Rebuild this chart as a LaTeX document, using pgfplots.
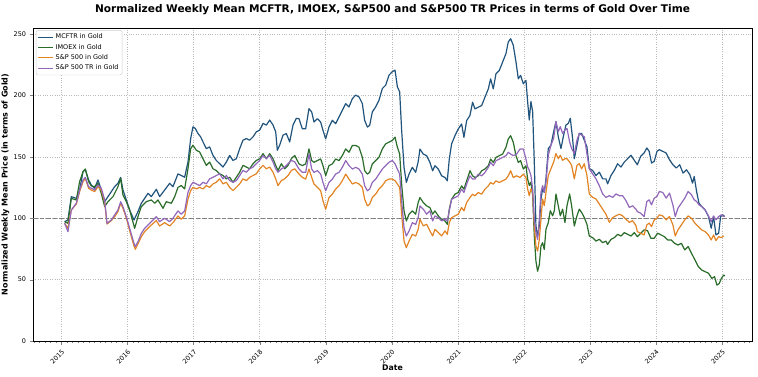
\documentclass[border=0pt]{standalone}
\usepackage{fontspec}
\setmainfont{DejaVu Sans}
\usepackage{pgfplots}
\pgfplotsset{compat=1.18}
\definecolor{cblue}{RGB}{33,84,125}
\definecolor{cgreen}{RGB}{42,108,42}
\definecolor{corange}{RGB}{226,132,36}
\definecolor{cpurple}{RGB}{146,104,186}
\begin{document}
\begin{tikzpicture}
\begin{axis}[name=ax, scale only axis, width=719bp, height=313bp,
  xmin=2014.569, xmax=2025.454, ymin=0, ymax=255,
  xtick={2015,2016,...,2025},
  minor xtick={2014.58333,2014.66667,...,2025.42},
  ytick={0,50,...,250},
  tick align=outside, xtick pos=bottom, ytick pos=left,
  major tick length=3.5bp, minor tick length=2bp,
  /pgf/number format/1000 sep={}, /pgf/number format/assume math mode=true,
  xticklabel style={rotate=45, anchor=north east, font=\fontsize{6.5}{7}\selectfont},
  yticklabel style={font=\fontsize{6.5}{7}\selectfont},
  grid=major, grid style={dotted, gray!55, line width=0.4bp},
  axis line style={line width=0.6bp},
  title={Normalized Weekly Mean MCFTR, IMOEX, S\&P500 and S\&P500 TR Prices in terms of Gold Over Time},
  title style={font=\bfseries\fontsize{10.6}{12}\selectfont, yshift=4bp},
  xlabel={Date}, ylabel={Normalized Weekly Mean Price (in terms of Gold)},
  xlabel style={font=\bfseries\fontsize{7.8}{8}\selectfont, at={(axis description cs:0.5,-0.086)}, anchor=center},
  ylabel style={font=\bfseries\fontsize{8}{9}\selectfont, at={(axis description cs:-0.028,0.5)}, anchor=south},
  legend style={at={(0.004,0.993)}, anchor=north west, draw=gray!40, rounded corners=2bp,
    font=\fontsize{6.5}{7}\selectfont, inner sep=1.5bp, row sep=0bp, cells={anchor=west}, fill=white},
  legend image code/.code={\draw[#1, line width=1.1bp] (0bp,0bp) -- (15bp,0bp);},
  every axis plot/.append style={line width=1.2bp, line join=round},
]
\addplot[forget plot, gray, dash pattern=on 4.5bp off 2bp, line width=0.8bp] coordinates {(2014.569,100) (2025.454,100)};

\addplot[cblue] coordinates {
(2015.048,97.2)(2015.098,98.6)(2015.149,117.6)(2015.225,116.2)(2015.275,123.0)(2015.326,137.9)(2015.361,139.8)(2015.411,131.2)(2015.452,127.1)(2015.502,124.4)(2015.553,131.2)(2015.603,123.0)(2015.654,113.5)(2015.704,117.6)(2015.755,121.7)(2015.805,125.7)(2015.855,128.5)(2015.896,133.3)(2015.931,123.0)(2015.982,114.9)(2016.032,106.7)(2016.098,98.6)(2016.158,105.4)(2016.209,112.2)(2016.259,116.2)(2016.310,120.3)(2016.360,117.6)(2016.436,123.6)(2016.486,117.6)(2016.562,123.0)(2016.638,128.5)(2016.688,125.7)
(2016.764,136.2)(2016.814,134.8)(2016.865,133.4)(2016.915,145.8)(2016.956,164.9)(2016.991,174.5)(2017.026,173.2)(2017.067,169.0)(2017.107,166.3)(2017.143,162.2)(2017.193,156.7)(2017.243,158.1)(2017.294,151.2)(2017.344,147.1)(2017.395,144.4)(2017.445,141.7)(2017.496,145.8)(2017.546,151.2)(2017.597,147.1)(2017.647,148.5)(2017.698,156.7)(2017.748,163.6)(2017.799,164.9)(2017.849,163.6)(2017.900,166.3)(2017.950,170.4)(2018.001,171.8)(2018.051,177.3)(2018.102,175.9)(2018.152,180.0)(2018.203,175.9)(2018.243,170.4)(2018.268,155.4)(2018.303,159.5)(2018.354,167.7)(2018.404,169.0)(2018.455,162.2)(2018.505,175.9)(2018.556,181.4)
(2018.596,181.1)(2018.646,172.9)(2018.697,172.9)(2018.747,189.3)(2018.788,186.6)(2018.823,178.4)(2018.874,181.1)(2018.924,178.4)(2018.959,171.6)(2019.000,164.7)(2019.050,174.3)(2019.101,179.8)(2019.151,177.0)(2019.202,182.5)(2019.252,188.0)(2019.303,193.4)(2019.353,190.7)(2019.404,197.5)(2019.454,200.3)(2019.504,198.9)(2019.555,193.4)(2019.590,179.8)(2019.631,174.3)(2019.666,175.7)(2019.706,186.6)(2019.757,190.7)(2019.807,196.2)(2019.858,205.7)(2019.908,208.4)(2019.959,216.6)(2020.009,219.4)(2020.050,220.7)(2020.085,207.1)(2020.120,203.0)(2020.150,171.6)(2020.186,141.5)(2020.221,129.2)(2020.262,136.0)(2020.312,141.5)(2020.362,137.4)(2020.400,146.0)
(2020.427,156.4)(2020.477,152.3)(2020.528,151.0)(2020.578,145.5)(2020.619,138.7)(2020.654,142.8)(2020.705,140.1)(2020.755,134.6)(2020.806,133.2)(2020.841,130.5)(2020.871,148.2)(2020.906,160.5)(2020.957,167.3)(2021.007,172.7)(2021.058,176.8)(2021.093,165.9)(2021.134,179.6)(2021.184,183.7)(2021.224,194.5)(2021.260,189.1)(2021.310,190.5)(2021.361,191.8)(2021.411,198.6)(2021.462,205.4)(2021.497,213.6)(2021.537,205.4)(2021.578,217.7)(2021.628,220.4)(2021.679,227.3)(2021.729,234.1)(2021.764,243.6)(2021.800,246.3)(2021.840,240.9)(2021.881,227.3)(2021.916,213.6)(2021.951,216.4)(2021.992,209.5)(2022.032,212.3)
(2022.057,195.1)(2022.082,180.1)(2022.107,195.1)(2022.133,186.9)(2022.158,145.8)(2022.183,93.7)(2022.208,85.5)(2022.234,93.7)(2022.259,115.7)(2022.284,123.9)(2022.309,121.1)(2022.335,132.1)(2022.370,156.8)(2022.410,159.5)(2022.451,170.5)(2022.486,178.7)(2022.521,166.4)(2022.562,156.8)(2022.602,167.7)(2022.637,175.9)(2022.673,177.3)(2022.703,181.4)(2022.738,165.0)(2022.764,148.5)(2022.804,159.5)(2022.839,169.1)(2022.875,169.1)(2022.915,163.6)(2022.955,158.1)(2022.991,140.3)(2023.041,139.0)(2023.092,134.8)(2023.142,137.6)(2023.193,132.1)(2023.243,132.1)(2023.268,128.0)(2023.319,134.8)(2023.369,139.0)(2023.420,144.4)(2023.470,141.7)(2023.521,145.8)(2023.571,148.5)(2023.622,151.3)(2023.672,147.2)
(2023.718,143.6)(2023.769,150.5)(2023.821,153.2)(2023.862,157.3)(2023.897,154.5)(2023.933,145.0)(2023.974,146.4)(2024.015,154.5)(2024.051,155.9)(2024.103,154.5)(2024.154,153.2)(2024.205,147.7)(2024.256,143.6)(2024.308,140.9)(2024.359,143.6)(2024.410,136.8)(2024.462,139.5)(2024.513,135.5)(2024.554,128.6)(2024.579,134.1)(2024.615,121.8)(2024.651,112.3)(2024.692,109.6)(2024.744,106.8)(2024.795,101.4)(2024.836,91.9)(2024.872,101.4)(2024.908,86.4)(2024.949,87.8)(2024.979,101.4)(2025.010,102.8)(2025.041,101.4)
};
\addlegendentry{MCFTR in Gold}

\addplot[cgreen] coordinates {
(2015.048,97.2)(2015.098,95.9)(2015.149,116.2)(2015.225,114.9)(2015.275,129.8)(2015.326,137.9)(2015.361,140.1)(2015.411,129.8)(2015.452,126.3)(2015.502,125.7)(2015.553,128.5)(2015.603,120.3)(2015.654,109.5)(2015.704,113.5)(2015.780,117.6)(2015.855,125.7)(2015.896,132.5)(2015.931,118.9)(2015.982,113.5)(2016.032,106.7)(2016.108,91.8)(2016.158,101.3)(2016.209,109.5)(2016.284,113.5)(2016.360,114.9)(2016.411,112.2)(2016.461,114.9)(2016.537,108.1)(2016.587,113.5)(2016.663,112.2)(2016.714,117.6)
(2016.764,125.2)(2016.814,126.6)(2016.865,123.9)(2016.915,140.3)(2016.956,156.7)(2016.991,159.5)(2017.042,155.4)(2017.092,154.0)(2017.143,148.5)(2017.193,143.1)(2017.243,145.8)(2017.294,140.3)(2017.344,138.9)(2017.395,136.2)(2017.445,134.8)(2017.496,132.1)(2017.546,133.4)(2017.597,129.3)(2017.647,133.4)(2017.698,137.5)(2017.748,143.1)(2017.799,141.7)(2017.849,140.3)(2017.900,144.4)(2017.950,147.1)(2018.001,148.5)(2018.051,152.6)(2018.102,148.5)(2018.152,152.6)(2018.203,148.5)(2018.243,143.1)(2018.278,138.9)(2018.329,144.4)(2018.379,140.3)(2018.430,143.1)(2018.480,148.5)(2018.531,151.2)
(2018.596,144.3)(2018.646,142.9)(2018.697,144.3)(2018.747,156.5)(2018.788,147.0)(2018.823,145.6)(2018.874,147.0)(2018.924,148.3)(2018.959,142.9)(2019.000,134.7)(2019.050,142.9)(2019.101,144.3)(2019.151,148.3)(2019.202,147.0)(2019.252,151.1)(2019.303,156.5)(2019.353,153.8)(2019.404,159.3)(2019.454,159.3)(2019.504,157.9)(2019.555,149.7)(2019.590,138.8)(2019.631,136.0)(2019.666,137.4)(2019.706,144.3)(2019.757,147.0)(2019.807,149.7)(2019.858,156.5)(2019.908,160.6)(2019.959,162.0)(2020.009,163.4)(2020.050,166.1)(2020.085,157.9)(2020.120,152.4)(2020.150,127.9)(2020.186,106.0)(2020.221,97.8)(2020.262,103.3)(2020.312,106.0)(2020.362,103.3)(2020.400,112.8)
(2020.427,116.9)(2020.477,112.8)(2020.528,110.1)(2020.578,108.7)(2020.619,103.3)(2020.654,106.0)(2020.705,101.9)(2020.755,99.2)(2020.806,97.8)(2020.841,95.1)(2020.871,107.4)(2020.906,115.5)(2020.957,119.6)(2021.007,121.0)(2021.058,126.4)(2021.093,123.7)(2021.134,130.5)(2021.184,138.7)(2021.224,134.6)(2021.260,133.2)(2021.310,134.6)(2021.361,138.7)(2021.411,140.1)(2021.462,142.8)(2021.497,148.2)(2021.537,145.5)(2021.578,149.6)(2021.628,151.0)(2021.679,152.3)(2021.729,157.8)(2021.764,164.6)(2021.800,167.3)(2021.840,161.9)(2021.881,151.0)(2021.916,145.5)(2021.951,146.9)(2021.992,140.1)(2022.032,142.8)
(2022.057,132.1)(2022.082,126.7)(2022.107,129.4)(2022.133,118.4)(2022.158,85.5)(2022.183,65.0)(2022.208,56.8)(2022.234,62.2)(2022.259,77.3)(2022.284,80.1)(2022.309,74.6)(2022.335,91.0)(2022.370,96.5)(2022.400,106.1)(2022.436,102.0)(2022.461,106.1)(2022.486,119.8)(2022.521,110.2)(2022.552,102.0)(2022.587,107.4)(2022.622,96.5)(2022.653,110.2)(2022.693,119.8)(2022.723,110.2)(2022.764,93.7)(2022.804,102.0)(2022.839,107.4)(2022.875,104.7)(2022.915,100.6)(2022.955,95.1)(2022.991,85.5)(2023.041,84.2)(2023.092,81.4)(2023.142,82.8)(2023.193,80.1)(2023.243,81.4)(2023.268,78.7)(2023.319,82.8)(2023.369,84.2)(2023.420,86.9)(2023.470,85.5)(2023.521,88.3)(2023.571,86.9)(2023.622,85.5)(2023.672,88.3)
(2023.718,85.0)(2023.769,87.8)(2023.821,90.5)(2023.872,89.9)(2023.923,83.7)(2023.974,83.7)(2024.026,87.8)(2024.077,86.4)(2024.128,85.0)(2024.179,82.3)(2024.231,82.3)(2024.282,79.6)(2024.333,78.2)(2024.385,79.6)(2024.436,74.2)(2024.487,76.9)(2024.538,71.5)(2024.590,66.1)(2024.641,60.6)(2024.692,57.9)(2024.744,56.5)(2024.795,55.2)(2024.846,51.0)(2024.887,52.4)(2024.923,45.5)(2024.959,46.9)(2024.990,51.0)(2025.026,53.7)(2025.041,52.9)
};
\addlegendentry{IMOEX in Gold}

\addplot[corange] coordinates {
(2015.048,95.9)(2015.098,91.8)(2015.149,106.7)(2015.225,111.6)(2015.275,121.7)(2015.326,129.8)(2015.361,132.5)(2015.411,124.4)(2015.452,123.0)(2015.502,121.7)(2015.553,125.7)(2015.603,123.0)(2015.654,113.5)(2015.689,95.3)(2015.755,98.1)(2015.805,101.3)(2015.855,105.4)(2015.896,112.2)(2015.931,108.1)(2015.982,100.0)(2016.032,89.9)(2016.098,77.4)(2016.118,74.7)(2016.158,79.1)(2016.209,85.0)(2016.259,89.1)(2016.310,91.8)(2016.360,94.5)(2016.436,98.1)(2016.486,93.7)(2016.562,96.4)(2016.638,93.7)(2016.688,96.4)
(2016.764,101.9)(2016.814,99.2)(2016.865,101.9)(2016.915,115.6)(2016.956,122.5)(2016.991,125.2)(2017.042,123.9)(2017.092,125.2)(2017.143,123.9)(2017.193,126.6)(2017.243,125.2)(2017.294,128.0)(2017.344,129.3)(2017.395,132.1)(2017.445,128.0)(2017.496,129.3)(2017.546,125.2)(2017.597,122.5)(2017.647,125.2)(2017.698,128.0)(2017.748,132.1)(2017.799,130.7)(2017.849,133.4)(2017.900,134.8)(2017.950,136.2)(2018.001,140.3)(2018.051,143.1)(2018.102,140.3)(2018.152,141.7)(2018.203,137.5)(2018.243,132.1)(2018.278,126.6)(2018.329,130.7)(2018.379,132.1)(2018.430,134.8)(2018.480,138.9)(2018.531,140.3)
(2018.596,136.0)(2018.646,133.3)(2018.697,131.9)(2018.747,140.1)(2018.788,133.3)(2018.823,127.9)(2018.874,125.1)(2018.924,122.4)(2018.959,114.2)(2019.000,107.4)(2019.050,116.9)(2019.101,119.7)(2019.151,123.8)(2019.202,126.5)(2019.252,130.6)(2019.303,136.0)(2019.353,131.9)(2019.404,127.9)(2019.454,129.2)(2019.504,127.9)(2019.555,125.1)(2019.590,115.6)(2019.631,110.1)(2019.666,111.5)(2019.706,116.9)(2019.757,119.7)(2019.807,123.8)(2019.858,126.5)(2019.908,130.6)(2019.959,131.9)(2020.009,131.9)(2020.050,130.6)(2020.085,127.9)(2020.120,125.1)(2020.150,103.3)(2020.186,81.4)(2020.221,76.0)(2020.262,81.4)(2020.312,86.9)(2020.362,85.5)(2020.400,91.0)
(2020.427,99.2)(2020.477,93.8)(2020.528,95.1)(2020.578,89.7)(2020.619,85.6)(2020.654,91.0)(2020.705,88.3)(2020.755,85.6)(2020.806,89.7)(2020.841,86.9)(2020.871,96.5)(2020.906,100.5)(2020.957,101.9)(2021.007,103.3)(2021.058,108.7)(2021.093,106.0)(2021.134,112.8)(2021.184,116.9)(2021.224,119.6)(2021.260,118.3)(2021.310,121.0)(2021.361,119.6)(2021.411,123.7)(2021.462,126.4)(2021.497,129.1)(2021.537,127.8)(2021.578,130.5)(2021.628,129.1)(2021.679,130.5)(2021.729,131.9)(2021.764,134.6)(2021.800,138.7)(2021.840,133.2)(2021.891,134.6)(2021.941,133.2)(2021.992,136.0)(2022.032,133.2)
(2022.057,123.9)(2022.082,118.4)(2022.107,123.9)(2022.133,121.1)(2022.158,93.7)(2022.183,77.3)(2022.208,73.2)(2022.234,82.8)(2022.259,99.2)(2022.284,115.7)(2022.309,110.2)(2022.335,121.1)(2022.370,134.8)(2022.410,140.3)(2022.451,145.8)(2022.486,152.7)(2022.521,148.5)(2022.552,151.3)(2022.587,147.2)(2022.622,148.5)(2022.653,148.5)(2022.693,145.8)(2022.723,143.1)(2022.764,132.1)(2022.804,143.1)(2022.839,144.4)(2022.875,140.3)(2022.915,144.4)(2022.955,134.8)(2022.991,119.8)(2023.041,117.0)(2023.092,115.7)(2023.142,111.6)(2023.193,107.4)(2023.243,103.3)(2023.294,96.7)(2023.344,100.5)(2023.394,102.0)(2023.445,103.3)(2023.495,102.0)(2023.546,99.2)(2023.597,96.7)(2023.647,98.0)(2023.697,94.0)
(2023.718,89.1)(2023.769,87.8)(2023.821,86.4)(2023.862,94.6)(2023.897,96.0)(2023.933,93.2)(2023.974,98.7)(2024.015,100.0)(2024.051,102.8)(2024.103,101.9)(2024.154,98.7)(2024.205,101.4)(2024.256,94.6)(2024.292,85.6)(2024.333,90.5)(2024.385,94.6)(2024.436,98.7)(2024.487,101.9)(2024.538,100.0)(2024.590,96.0)(2024.641,93.2)(2024.692,90.5)(2024.744,89.1)(2024.795,86.4)(2024.836,82.3)(2024.872,86.4)(2024.908,81.8)(2024.949,85.0)(2024.990,84.2)(2025.026,85.6)
};
\addlegendentry{S\&P 500 in Gold}

\addplot[cpurple] coordinates {
(2015.048,95.9)(2015.098,89.1)(2015.149,106.7)(2015.225,112.2)(2015.275,123.0)(2015.326,131.2)(2015.361,133.3)(2015.411,125.7)(2015.452,124.4)(2015.502,123.0)(2015.553,127.1)(2015.603,124.4)(2015.654,114.9)(2015.689,95.9)(2015.755,98.6)(2015.805,102.7)(2015.855,106.7)(2015.896,113.5)(2015.931,109.5)(2015.982,101.3)(2016.032,91.8)(2016.098,79.6)(2016.118,76.9)(2016.158,80.9)(2016.209,87.7)(2016.259,91.8)(2016.310,94.5)(2016.360,97.2)(2016.436,101.3)(2016.486,97.2)(2016.562,100.0)(2016.638,97.2)(2016.688,100.0)
(2016.764,106.0)(2016.814,103.3)(2016.865,106.0)(2016.915,121.1)(2016.956,126.6)(2016.991,129.3)(2017.042,128.0)(2017.092,126.6)(2017.143,129.3)(2017.193,128.0)(2017.243,132.1)(2017.294,133.4)(2017.344,134.8)(2017.395,136.2)(2017.445,132.1)(2017.496,134.8)(2017.546,130.7)(2017.597,129.3)(2017.647,130.7)(2017.698,134.8)(2017.748,138.9)(2017.799,137.5)(2017.849,140.3)(2017.900,141.7)(2017.950,144.4)(2018.001,147.1)(2018.051,151.2)(2018.102,148.5)(2018.152,151.2)(2018.203,145.8)(2018.243,140.3)(2018.278,137.5)(2018.329,140.3)(2018.379,141.7)(2018.430,144.4)(2018.480,147.1)(2018.531,146.0)
(2018.596,140.1)(2018.646,137.4)(2018.697,137.4)(2018.747,152.4)(2018.788,140.1)(2018.823,137.4)(2018.874,138.8)(2018.924,136.0)(2018.959,129.2)(2019.000,122.4)(2019.050,129.2)(2019.101,131.9)(2019.151,136.0)(2019.202,137.4)(2019.252,141.5)(2019.303,147.0)(2019.353,142.9)(2019.404,140.1)(2019.454,141.5)(2019.504,140.1)(2019.555,136.0)(2019.590,126.5)(2019.631,122.4)(2019.666,123.8)(2019.706,129.2)(2019.757,131.9)(2019.807,136.0)(2019.858,140.1)(2019.908,142.9)(2019.959,145.6)(2020.009,147.0)(2020.050,144.3)(2020.085,140.1)(2020.120,136.0)(2020.150,114.2)(2020.186,92.3)(2020.221,85.5)(2020.262,89.6)(2020.312,96.4)(2020.362,95.0)(2020.400,100.5)
(2020.427,110.1)(2020.477,107.4)(2020.528,103.3)(2020.578,106.0)(2020.619,97.8)(2020.654,101.9)(2020.705,100.5)(2020.755,97.8)(2020.806,99.2)(2020.841,97.8)(2020.871,106.0)(2020.906,115.5)(2020.957,116.9)(2021.007,118.3)(2021.058,123.7)(2021.093,121.0)(2021.134,127.8)(2021.184,134.6)(2021.224,131.9)(2021.260,131.9)(2021.310,136.0)(2021.361,134.6)(2021.411,137.3)(2021.462,141.4)(2021.497,145.5)(2021.537,142.8)(2021.578,146.9)(2021.628,148.2)(2021.679,149.6)(2021.729,151.0)(2021.764,153.7)(2021.800,152.3)(2021.840,151.0)(2021.891,152.3)(2021.941,156.4)(2021.992,156.4)(2022.032,148.2)
(2022.057,141.7)(2022.082,139.0)(2022.107,134.8)(2022.133,123.9)(2022.158,99.2)(2022.183,88.3)(2022.208,82.8)(2022.234,99.2)(2022.259,121.1)(2022.284,126.6)(2022.309,121.1)(2022.335,129.4)(2022.370,151.3)(2022.410,159.5)(2022.451,165.0)(2022.486,178.7)(2022.521,170.5)(2022.552,174.6)(2022.587,169.1)(2022.622,171.8)(2022.653,173.2)(2022.693,162.2)(2022.723,156.8)(2022.764,152.7)(2022.804,163.6)(2022.839,169.1)(2022.875,167.7)(2022.915,166.4)(2022.955,152.7)(2022.991,140.3)(2023.041,136.2)(2023.092,132.1)(2023.142,126.6)(2023.193,119.8)(2023.243,117.0)(2023.294,118.4)(2023.344,117.0)(2023.394,119.8)(2023.445,118.4)(2023.495,118.4)(2023.546,114.3)(2023.597,108.8)(2023.647,110.2)(2023.697,107.4)
(2023.718,105.5)(2023.769,104.1)(2023.821,101.4)(2023.862,113.7)(2023.897,115.0)(2023.933,110.9)(2023.974,116.4)(2024.015,117.8)(2024.051,121.8)(2024.103,121.0)(2024.154,116.4)(2024.205,120.5)(2024.256,110.9)(2024.292,101.4)(2024.333,108.2)(2024.385,112.3)(2024.436,116.4)(2024.487,121.8)(2024.538,119.1)(2024.579,115.0)(2024.615,113.7)(2024.651,110.9)(2024.692,109.6)(2024.744,106.8)(2024.795,101.9)(2024.836,97.3)(2024.872,101.9)(2024.908,98.7)(2024.949,101.4)(2024.990,102.8)(2025.026,101.4)(2025.041,101.9)
};
\addlegendentry{S\&P 500 TR in Gold}
\end{axis}
\pgfresetboundingbox
\path ([xshift=-33bp,yshift=-36bp]ax.south west) rectangle ([xshift=6bp,yshift=28bp]ax.north east);
\end{tikzpicture}
\end{document}
